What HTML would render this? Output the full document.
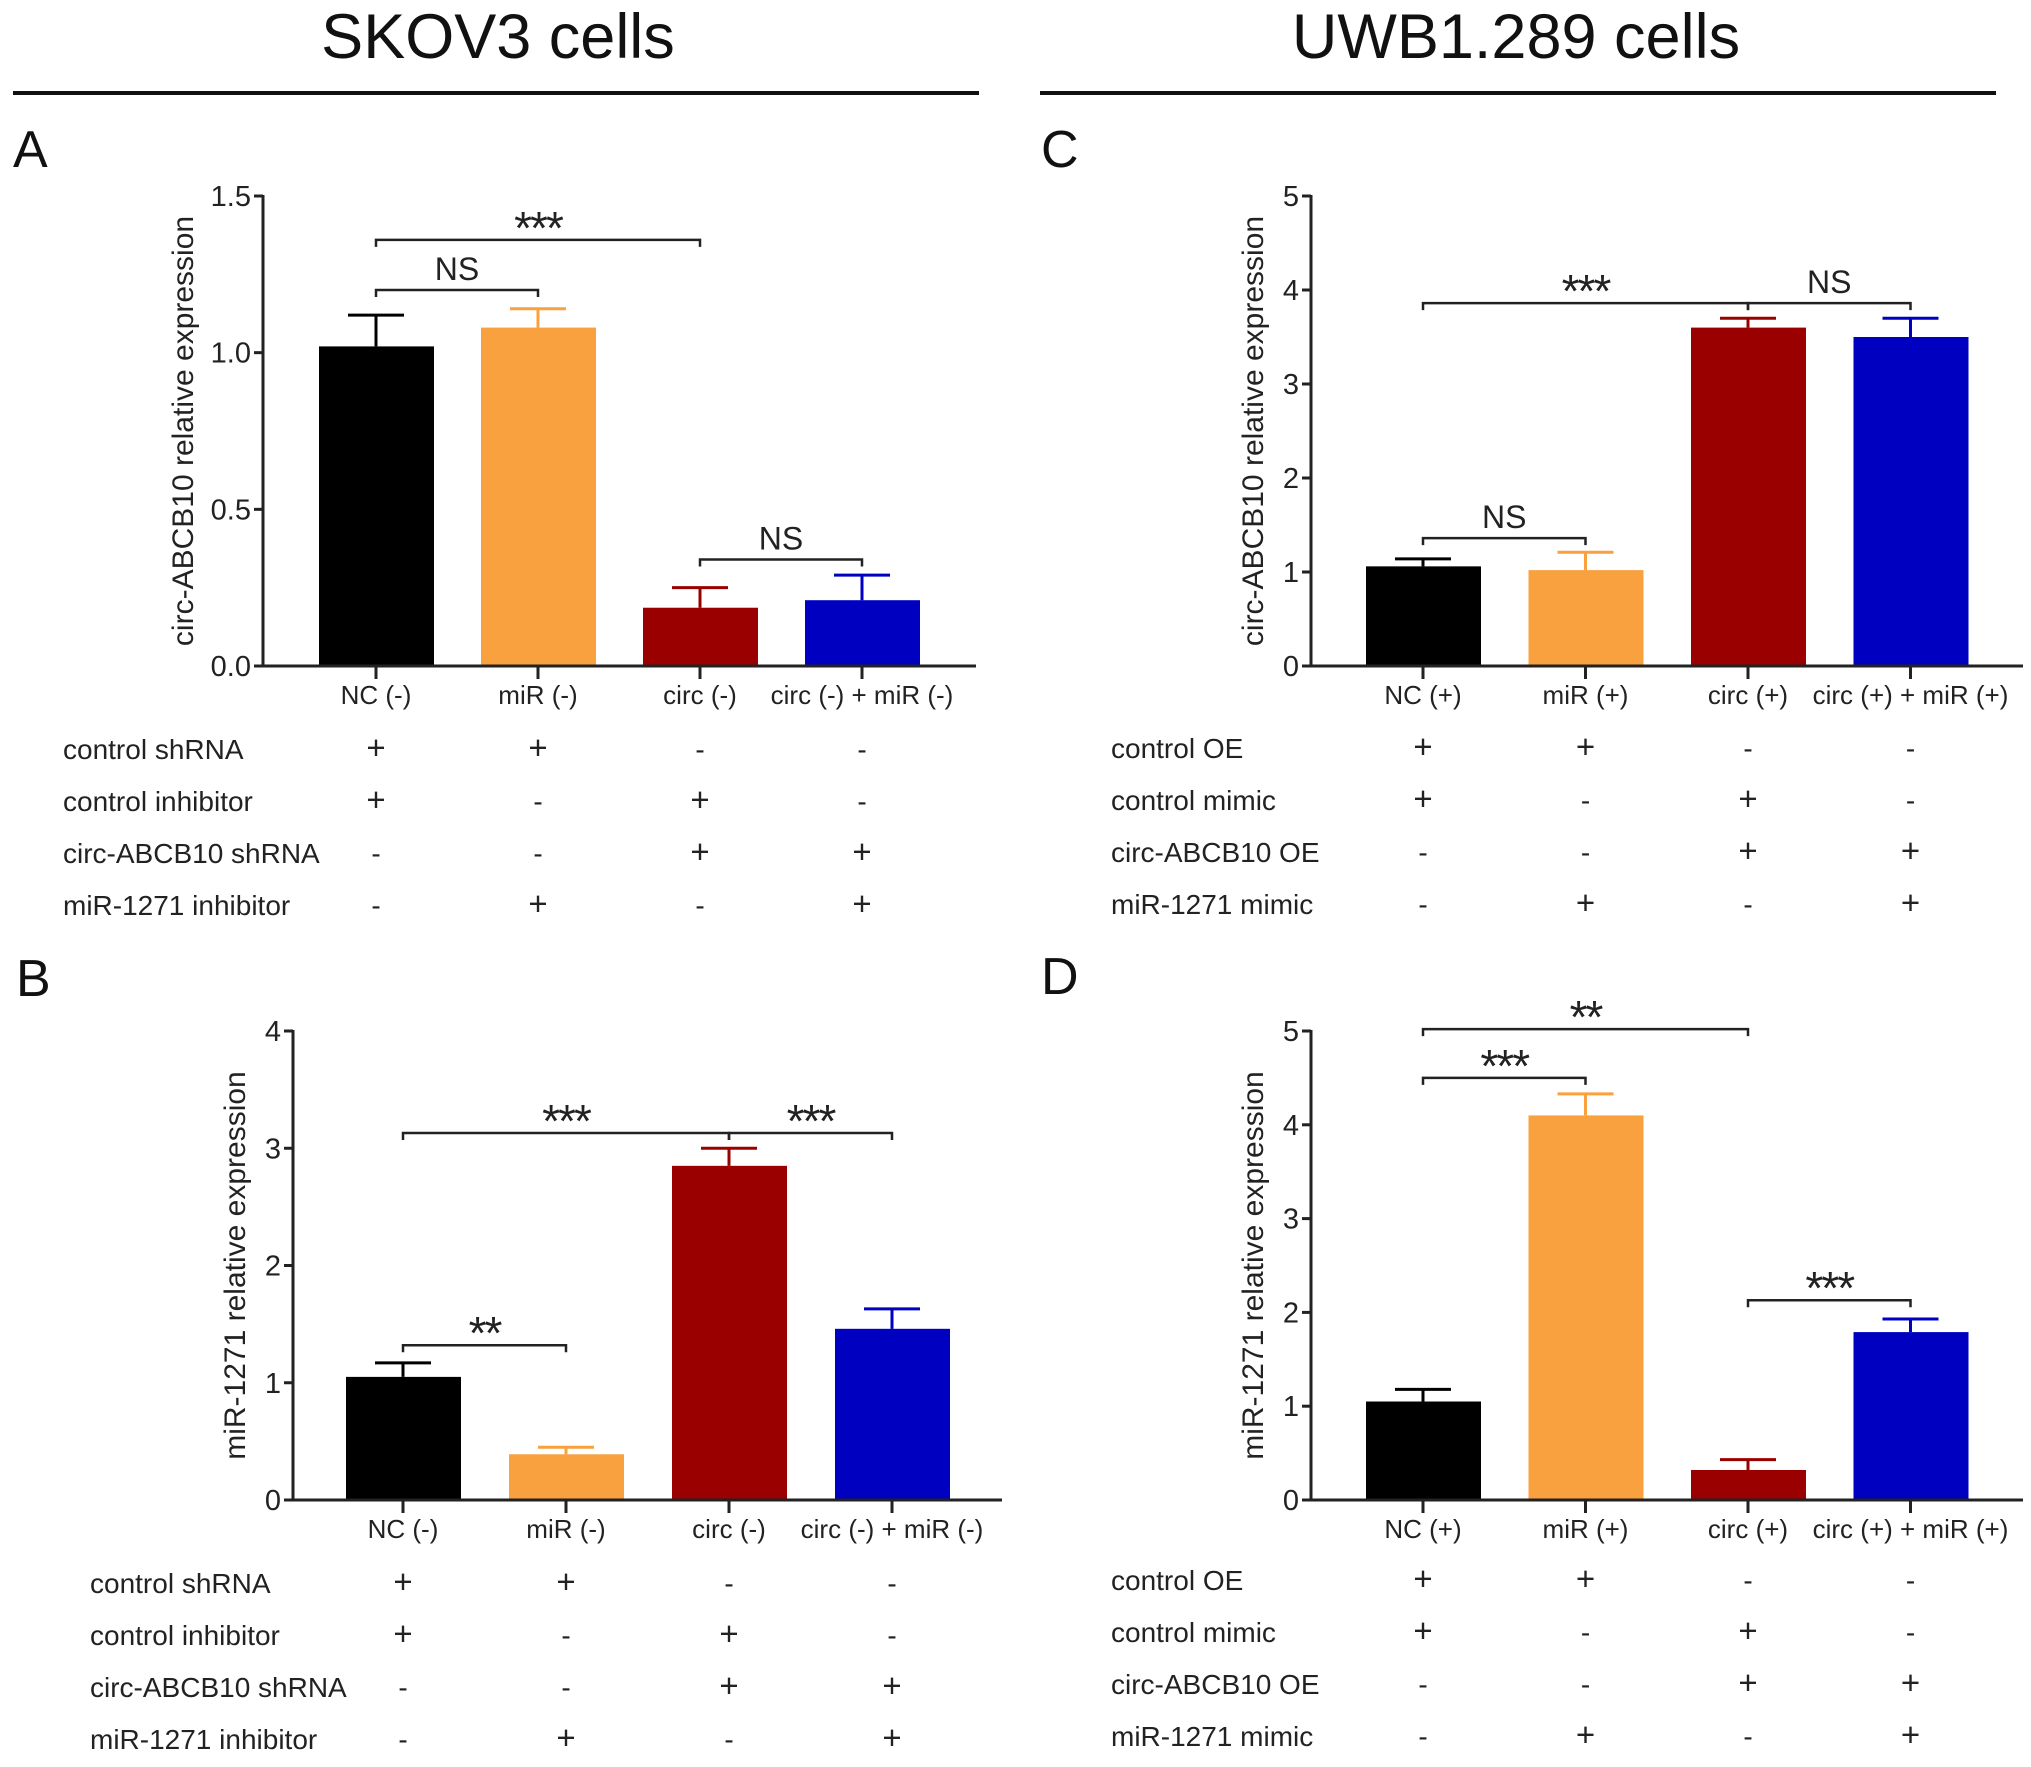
<!DOCTYPE html>
<html><head><meta charset="utf-8"><style>
html,body{margin:0;padding:0;background:#fff;}
svg{display:block;font-family:"Liberation Sans",Arial,sans-serif;}
</style></head><body>
<svg id="fig" width="2031" height="1767" viewBox="0 0 2031 1767">
<text x="498" y="58" font-size="63" text-anchor="middle" fill="#111">SKOV3 cells</text>
<rect x="13" y="91" width="966" height="4" fill="#111"/>
<text x="1516" y="58" font-size="63" text-anchor="middle" fill="#111">UWB1.289 cells</text>
<rect x="1040" y="91" width="956" height="4" fill="#111"/>
<g id="panels"></g>
</svg>
<script>
const categoriesMinus = ["NC (-)", "miR (-)", "circ (-)", "circ (-) + miR (-)"];
const categoriesPlus = ["NC (+)", "miR (+)", "circ (+)", "circ (+) + miR (+)"];
const barColors = ["#000000", "#f9a03f", "#9b0000", "#0000c0"];
const valuesA = [1.02, 1.08, 0.186, 0.21];
const errorsA = [0.10, 0.06, 0.064, 0.08];
const valuesB = [1.05, 0.39, 2.85, 1.46];
const errorsB = [0.12, 0.06, 0.15, 0.17];
const valuesC = [1.06, 1.02, 3.6, 3.5];
const errorsC = [0.08, 0.19, 0.1, 0.2];
const valuesD = [1.05, 4.1, 0.32, 1.79];
const errorsD = [0.13, 0.23, 0.11, 0.14];
const ticksA = [0, 0.5, 1.0, 1.5];
const tickLabelsA = ["0.0", "0.5", "1.0", "1.5"];
const ticksB = [0, 1, 2, 3, 4];
const ticksCD = [0, 1, 2, 3, 4, 5];
const rowsShRNA = ["control shRNA", "control inhibitor", "circ-ABCB10 shRNA", "miR-1271 inhibitor"];
const rowsOE = ["control OE", "control mimic", "circ-ABCB10 OE", "miR-1271 mimic"];
const signs = [["+","+","-","-"],["+","-","+","-"],["-","-","+","+"],["-","+","-","+"]];
const bracketsA = [[0,2,1.36,"***"],[0,1,1.20,"NS"],[2,3,0.34,"NS"]];
const bracketsB = [[0,2,3.13,"***"],[2,3,3.13,"***"],[0,1,1.32,"**"]];
const bracketsC = [[0,2,3.86,"***"],[2,3,3.86,"NS"],[0,1,1.36,"NS"]];
const bracketsD = [[0,2,5.02,"**"],[0,1,4.5,"***"],[2,3,2.13,"***"]];

const NS = "http://www.w3.org/2000/svg";
const root = document.getElementById("panels");
function mk(tag, attrs, parent, text){
  const e = document.createElementNS(NS, tag);
  for (const k in attrs) e.setAttribute(k, attrs[k]);
  if (text !== undefined) e.textContent = text;
  parent.appendChild(e);
  return e;
}
function panel(p){
  const g = mk("g", {}, root);
  
  
  const y = v => p.bottom - (v / p.max) * (p.bottom - p.top);
  const xc = i => p.x0 + i * p.step;
  const L = mk("text", {x:p.lx, y:p.ly, "font-size":52, fill:"#111"}, g, p.letter);
  
  
  const ya = mk("line", {x1:p.ax, y1:p.top-1, x2:p.ax, y2:p.bottom+1.5, stroke:"#222", "stroke-width":3}, g);
  
  
  p.ticks.forEach((t, i) => {
    mk("line", {x1:p.ax-9, y1:y(t), x2:p.ax, y2:y(t), stroke:"#222", "stroke-width":3}, g);
    const tl = mk("text", {x:p.ax-12, y:y(t)+10, "font-size":29, "text-anchor":"end", fill:"#222"}, g, p.tickLabels[i]);
    
    
  });
  const yt = mk("text", {x:p.ytx, y:(p.top+p.bottom)/2, "font-size":30, "text-anchor":"middle", fill:"#222", transform:"rotate(-90 "+p.ytx+" "+(p.top+p.bottom)/2+")"}, g, p.ytitle);
  
  
  p.values.forEach((v, i) => {
    const c = barColors[i];
    const b = mk("rect", {x:xc(i)-57, y:y(v), width:115, height:p.bottom-y(v), fill:c}, g);
    
    
    const e = y(v + p.errors[i]);
    const eb = mk("path", {d:"M"+xc(i)+" "+y(v)+" V"+e+" M"+(xc(i)-28)+" "+e+" H"+(xc(i)+28), stroke:c, "stroke-width":3, fill:"none"}, g);
    
    
    mk("line", {x1:xc(i), y1:p.bottom, x2:xc(i), y2:p.bottom+13, stroke:"#222", "stroke-width":3}, g);
    const cl = mk("text", {x:xc(i), y:p.bottom+38, "font-size":26, "text-anchor":"middle", fill:"#222"}, g, p.cats[i]);
    
    
  });
  const xa = mk("line", {x1:p.ax-1.5, y1:p.bottom, x2:p.xend, y2:p.bottom, stroke:"#222", "stroke-width":3}, g);
  
  
  p.brackets.forEach(br => {
    const by = y(br[2]);
    const bp = mk("path", {d:"M"+xc(br[0])+" "+(by+7)+" V"+by+" H"+xc(br[1])+" V"+(by+7), stroke:"#222", "stroke-width":2.5, fill:"none"}, g);
    
    
    const star = br[3].indexOf("*") >= 0;
    const bt = mk("text", {x:(xc(br[0])+xc(br[1]))/2, y:star ? by+4 : by-10, "font-size":star ? 46 : 32, "text-anchor":"middle", fill:"#222", "letter-spacing":star ? "-2" : "0"}, g, br[3]);
    
    
  });
  p.rows.forEach((r, ri) => {
    const ry = p.rowY + ri * 52;
    const rl = mk("text", {x:p.tx, y:ry, "font-size":28, fill:"#222"}, g, r);
    
    
    signs[ri].forEach((s, ci) => {
      const st = mk("text", {x:xc(ci), y:ry, "font-size":s === "+" ? 33 : 28, "text-anchor":"middle", fill:"#222"}, g, s);
      
      
    });
  });
}
panel({letter:"A", lx:13, ly:167, ax:263, top:196, bottom:666, max:1.5, x0:376, step:162, xend:976,
  ticks:ticksA, tickLabels:tickLabelsA, ytx:193, ytitle:"circ-ABCB10 relative expression",
  values:valuesA, errors:errorsA, cats:categoriesMinus, brackets:bracketsA, rows:rowsShRNA, tx:63, rowY:759});
panel({letter:"B", lx:16, ly:996, ax:293, top:1031, bottom:1500, max:4, x0:403, step:163, xend:1002,
  ticks:ticksB, tickLabels:ticksB.map(String), ytx:245, ytitle:"miR-1271 relative expression",
  values:valuesB, errors:errorsB, cats:categoriesMinus, brackets:bracketsB, rows:rowsShRNA, tx:90, rowY:1593});
panel({letter:"C", lx:1041, ly:167, ax:1311, top:196, bottom:666, max:5, x0:1423, step:162.5, xend:2023,
  ticks:ticksCD, tickLabels:ticksCD.map(String), ytx:1263, ytitle:"circ-ABCB10 relative expression",
  values:valuesC, errors:errorsC, cats:categoriesPlus, brackets:bracketsC, rows:rowsOE, tx:1111, rowY:758});
panel({letter:"D", lx:1041, ly:994, ax:1311, top:1031, bottom:1500, max:5, x0:1423, step:162.5, xend:2023,
  ticks:ticksCD, tickLabels:ticksCD.map(String), ytx:1263, ytitle:"miR-1271 relative expression",
  values:valuesD, errors:errorsD, cats:categoriesPlus, brackets:bracketsD, rows:rowsOE, tx:1111, rowY:1590});
</script>
</body></html>
